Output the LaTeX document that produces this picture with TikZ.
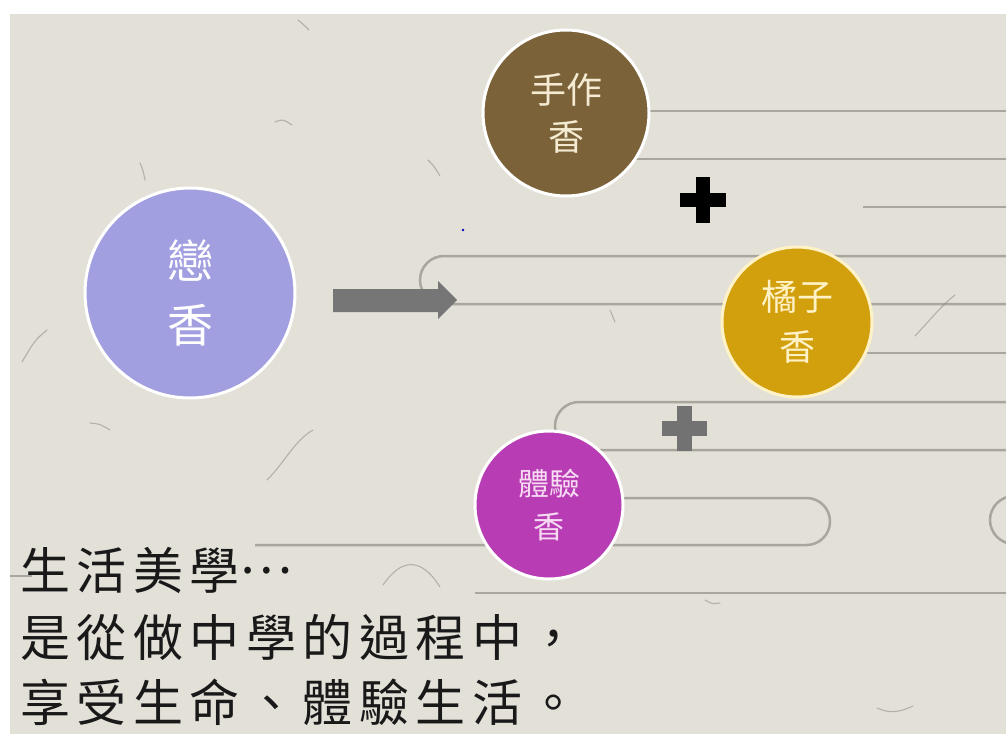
\documentclass[tikz,border=0pt]{standalone}
\usepackage{fontspec}
\newfontfamily\cjk{Noto Sans CJK TC}
\newfontfamily\cjkls[LetterSpace=13]{Noto Sans CJK TC}
\definecolor{paper}{HTML}{E3E0D8}
\definecolor{lineg}{HTML}{A9A69E}
\definecolor{fibc}{HTML}{85827B}
\definecolor{lav}{HTML}{A19FE0}
\definecolor{brownc}{HTML}{7B6238}
\definecolor{goldc}{HTML}{D29F0D}
\definecolor{magc}{HTML}{B83CB4}
\definecolor{creamt}{HTML}{F4EBD2}
\definecolor{goldt}{HTML}{FFF2C6}
\definecolor{pinkt}{HTML}{F7DBF3}
\definecolor{agray}{HTML}{767676}
\definecolor{pgray}{HTML}{727272}
\begin{document}
\begin{tikzpicture}[x=1pt,y=-1pt,
  bgline/.style={draw=lineg, line width=2.5pt},
  fiber/.style={draw=fibc, line width=1.1pt, opacity=0.5, line cap=round},
  bub/.style={circle, draw=white, line width=3pt, inner sep=0pt, align=center},
  btext/.style={font=\cjkls\fontsize{50}{60}\selectfont, text=black!90, inner sep=0pt, anchor=west}]
\useasboundingbox (0,0) rectangle (1006,734);
\fill[white] (0,0) rectangle (1006,734);
\fill[paper] (10,14) rectangle (1006,734);
\begin{scope}
\clip (10,14) rectangle (1006,734);
% background line pattern
\draw[bgline] (600,111) -- (1010,111);
\draw[bgline] (600,159) -- (1010,159);
\draw[bgline] (863,207) -- (1010,207);
\draw[bgline] (1010,256) -- (444,256) .. controls (430.75,256) and (420,266.75) .. (420,280)
   .. controls (420,293.25) and (430.75,304) .. (444,304) -- (1010,304);
\draw[bgline] (850,353) -- (1010,353);
\draw[bgline] (1010,402) -- (579,402) .. controls (565.75,402) and (555,412.75) .. (555,426)
   .. controls (555,439.25) and (565.75,450) .. (579,450) -- (1010,450);
\draw[bgline] (560,498) -- (806.5,498) .. controls (819.5,498) and (830,508.5) .. (830,521.5)
   .. controls (830,534.5) and (819.5,545) .. (806.5,545) -- (255,545);
\draw[bgline] (1030,496) -- (1014,496) .. controls (1000.75,496) and (990,506.75) .. (990,520)
   .. controls (990,533.25) and (1000.75,544) .. (1014,544) -- (1030,544);
\draw[bgline] (475,593) -- (1010,593);
\draw[bgline] (5,576) -- (32,576);
% paper fibres
\draw[fiber] (298,20) .. controls (303,24) .. (309,30);
\draw[fiber] (275,122) .. controls (283,119) .. (292,125);
\draw[fiber] (140,163) .. controls (143,170) .. (145,180);
\draw[fiber] (428,160) .. controls (434,166) .. (440,176);
\draw[fiber] (47,330) .. controls (35,340) .. (22,362);
\draw[fiber] (267,480) .. controls (285,462) and (295,440) .. (313,430);
\draw[fiber] (90,423) .. controls (100,424) .. (110,430);
\draw[fiber] (915,336) .. controls (930,320) and (942,305) .. (955,295);
\draw[fiber] (383,585) .. controls (400,560) and (420,555) .. (440,587);
\draw[fiber] (877,708) .. controls (890,714) and (900,712) .. (913,706);
\draw[fiber] (610,310) -- (615,322);
\draw[fiber] (705,600) .. controls (712,604) .. (720,603);
\end{scope}
\fill[blue!75!black] (463,230) circle (1.3);
% circles
\node[bub, fill=lav, minimum size=210pt, text=white,
      font=\cjk\fontsize{46}{64}\selectfont] (lian) at (190,293) {戀\\香};
\node[bub, fill=brownc, minimum size=166pt, text=creamt,
      font=\cjk\fontsize{36}{47}\selectfont] (shou) at (566,113) {手作\\香};
\node[bub, draw=goldt, fill=goldc, minimum size=150pt, text=goldt,
      font=\cjk\fontsize{36}{50}\selectfont] (ju) at (797,322) {橘子\\香};
\node[bub, fill=magc, minimum size=148pt, text=pinkt,
      font=\cjk\fontsize{31}{43}\selectfont] (ti) at (549,505) {體驗\\香};
% arrow
\fill[agray] (333,289) -- (438,289) -- (438,281) -- (457,300) -- (438,319) -- (438,312) -- (333,312) -- cycle;
% plus signs
\fill[black] (680,193) rectangle (726,207);
\fill[black] (696,177) rectangle (710,223);
\fill[pgray] (661.5,421) rectangle (706.5,436);
\fill[pgray] (676.5,405.5) rectangle (691.5,450.5);
% text
\node[btext] (t1) at (20,570) {生活美學\raisebox{16pt}{…}};
\node[btext] (t2) at (20,637) {是從做中學的過程中，};
\node[btext] (t3) at (20,702) {享受生命、體驗生活。};
\end{tikzpicture}
\end{document}
